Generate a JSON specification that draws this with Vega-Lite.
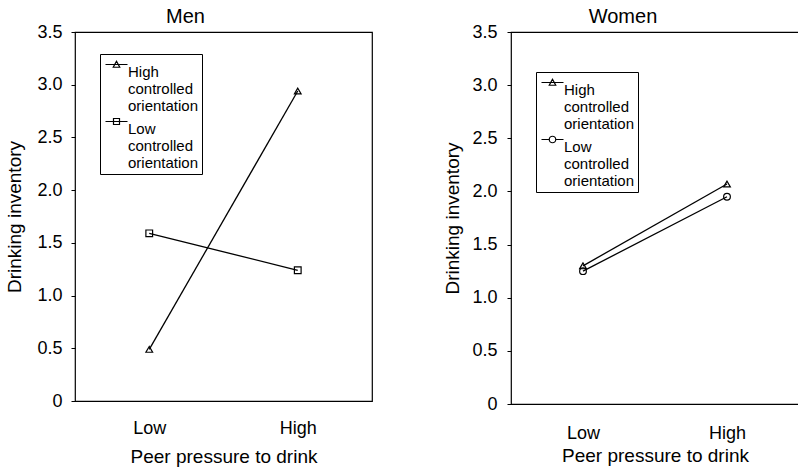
{
  "$schema": "https://vega.github.io/schema/vega-lite/v6.json",
  "padding": {"left": 5, "top": 6, "right": 0, "bottom": 0},
  "background": "white",
  "config": {
    "font": "Liberation Sans",
    "view": {"stroke": "black", "strokeWidth": 1.2},
    "axis": {"grid": false, "domain": false, "labelFont": "Liberation Sans", "labelFontSize": 18, "labelColor": "black", "titleFont": "Liberation Sans", "titleFontSize": 19, "titleFontWeight": "normal", "titleColor": "black", "tickColor": "black"},
    "title": {"font": "Liberation Sans", "fontSize": 20, "fontWeight": "normal", "color": "black", "anchor": "middle"},
    "legend": {"title": null, "orient": "none", "strokeColor": "black", "fillColor": "white", "padding": 3, "labelFont": "Liberation Sans", "labelFontSize": 15, "labelColor": "black", "labelLimit": 0, "symbolSize": 100, "symbolOffset": 6, "symbolStrokeColor": "black", "symbolStrokeWidth": 1.2, "symbolFillColor": "transparent", "labelOffset": 4, "rowPadding": -8, "cornerRadius": 0}
  },
  "data": {"values": [
    {"sex": "Men", "pressure": "Low", "orientation": "High controlled orientation", "value": 0.49},
    {"sex": "Men", "pressure": "High", "orientation": "High controlled orientation", "value": 2.94},
    {"sex": "Men", "pressure": "Low", "orientation": "Low controlled orientation", "value": 1.59},
    {"sex": "Men", "pressure": "High", "orientation": "Low controlled orientation", "value": 1.24},
    {"sex": "Women", "pressure": "Low", "orientation": "High controlled orientation", "value": 1.30},
    {"sex": "Women", "pressure": "High", "orientation": "High controlled orientation", "value": 2.07},
    {"sex": "Women", "pressure": "Low", "orientation": "Low controlled orientation", "value": 1.25},
    {"sex": "Women", "pressure": "High", "orientation": "Low controlled orientation", "value": 1.95}
  ]},
  "spacing": 70,
  "resolve": {"scale": {"shape": "independent"}, "legend": {"shape": "independent"}},
  "hconcat": [
    {
      "title": {"text": "Men", "dx": -38, "offset": -4},
      "width": 297,
      "height": 369,
      "transform": [{"filter": "datum.sex == 'Men'"}],
      "encoding": {
        "x": {"field": "pressure", "type": "ordinal", "sort": ["Low", "High"], "scale": {"type": "point", "padding": 0.5}, "axis": {"title": "Peer pressure to drink", "labelAngle": 0, "ticks": false, "labelPadding": 18, "titlePadding": 10}},
        "y": {"field": "value", "type": "quantitative", "scale": {"domain": [0, 3.5], "nice": false}, "axis": {"title": "Drinking inventory", "values": [0, 0.5, 1, 1.5, 2, 2.5, 3, 3.5], "labelExpr": "datum.value == 0 ? '0' : format(datum.value, '.1f')", "tickSize": 4, "labelPadding": 9, "titlePadding": 12}}
      },
      "resolve": {"scale": {"shape": "independent"}, "legend": {"shape": "independent"}},
      "layer": [
        {"mark": {"type": "line", "color": "black", "strokeWidth": 1.3}, "encoding": {"detail": {"field": "orientation", "type": "nominal"}}},
        {"mark": {"type": "point", "filled": false, "color": "black", "strokeWidth": 1.2, "size": 45, "opacity": 1},
         "encoding": {"shape": {"field": "orientation", "type": "nominal",
           "scale": {"domain": ["High controlled orientation", "Low controlled orientation"], "range": ["triangle-up", "square"]},
           "legend": null}}},
        {"transform": [{"filter": "false"}],
         "mark": {"type": "point", "filled": false, "color": "black", "strokeWidth": 1.2, "opacity": 1},
         "encoding": {"shape": {"field": "orientation", "type": "nominal",
           "scale": {"domain": ["High controlled orientation", "Low controlled orientation"], "range": ["M-2.2,0H2.2M0,-0.65L0.65,0.55H-0.65Z", "M-2.2,0H2.2M-0.6,-0.6H0.6V0.6H-0.6Z"]},
           "legend": {"legendX": 25, "legendY": 22, "labelExpr": "split(datum.label, ' ')", "labelBaseline": "top",
             "encode": {"labels": {"update": {"lineHeight": {"value": 16.5}, "dy": {"value": -10}}}}}}}}
      ]
    },
    {
      "title": {"text": "Women", "dx": -32, "offset": -4},
      "width": 288,
      "height": 372,
      "transform": [{"filter": "datum.sex == 'Women'"}],
      "encoding": {
        "x": {"field": "pressure", "type": "ordinal", "sort": ["Low", "High"], "scale": {"type": "point", "padding": 0.5}, "axis": {"title": "Peer pressure to drink", "labelAngle": 0, "ticks": false, "labelPadding": 20, "titlePadding": 4}},
        "y": {"field": "value", "type": "quantitative", "scale": {"domain": [0, 3.5], "nice": false}, "axis": {"title": "Drinking inventory", "values": [0, 0.5, 1, 1.5, 2, 2.5, 3, 3.5], "labelExpr": "datum.value == 0 ? '0' : format(datum.value, '.1f')", "tickSize": 4, "labelPadding": 10, "titlePadding": 9}}
      },
      "resolve": {"scale": {"shape": "independent"}, "legend": {"shape": "independent"}},
      "layer": [
        {"mark": {"type": "line", "color": "black", "strokeWidth": 1.3}, "encoding": {"detail": {"field": "orientation", "type": "nominal"}}},
        {"mark": {"type": "point", "filled": false, "color": "black", "strokeWidth": 1.2, "size": 45, "opacity": 1},
         "encoding": {"shape": {"field": "orientation", "type": "nominal",
           "scale": {"domain": ["High controlled orientation", "Low controlled orientation"], "range": ["triangle-up", "circle"]},
           "legend": null}}},
        {"transform": [{"filter": "false"}],
         "mark": {"type": "point", "filled": false, "color": "black", "strokeWidth": 1.2, "opacity": 1},
         "encoding": {"shape": {"field": "orientation", "type": "nominal",
           "scale": {"domain": ["High controlled orientation", "Low controlled orientation"], "range": ["M-2.2,0H2.2M0,-0.65L0.65,0.55H-0.65Z", "M-2.2,0H-0.65M0.65,0H2.2M0.65,0A0.65,0.65,0,1,1,-0.65,0A0.65,0.65,0,1,1,0.65,0"]},
           "legend": {"legendX": 25, "legendY": 40, "labelExpr": "split(datum.label, ' ')", "labelBaseline": "top",
             "encode": {"labels": {"update": {"lineHeight": {"value": 16.5}, "dy": {"value": -10}}}}}}}}
      ]
    }
  ]
}
